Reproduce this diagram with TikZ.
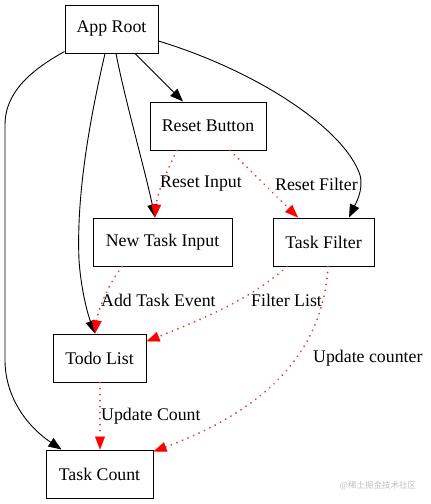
\documentclass[tikz,border=0pt]{standalone}
\usepackage{fontspec}
\setmainfont{Liberation Serif}
\newfontfamily\cjk{Noto Sans CJK SC}
\usetikzlibrary{arrows.meta}
\definecolor{edgered}{RGB}{235,50,50}
\begin{document}
\begin{tikzpicture}[x=1pt,y=-1pt,
  box/.style={draw=black,line width=1pt,minimum height=48pt,inner sep=0pt,font=\fontsize{17.8}{20}\selectfont},
  lbl/.style={anchor=west,inner sep=0pt,font=\fontsize{17.8}{20}\selectfont},
  blk/.style={draw=black,line width=0.9pt,-{Triangle[length=13pt,width=10pt]}},
  redarr/.style={draw=edgered,line width=2pt,line cap=round,dash pattern=on 0.01pt off 6pt,
    -{Triangle[length=13pt,width=10pt,color=red,line width=0.1pt]}}
]
\useasboundingbox (0,0) rectangle (431,504);
\node[box,minimum width=93pt] (root) at (111.5,29) {App Root};
\node[box,minimum width=116pt] (reset) at (208,126) {Reset Button};
\node[box,minimum width=139pt] (newtask) at (162.5,242) {New Task Input};
\node[box,minimum width=101pt] (filter) at (323.5,242) {Task Filter};
\node[box,minimum width=93pt] (todo) at (99.5,358) {Todo List};
\node[box,minimum width=107pt] (count) at (99.5,474) {Task Count};

% black edges
\draw[blk] ([yshift=2pt]root.south west) .. controls (35,68) and (5,90) .. (5,125)
   -- (5,360) .. controls (5,395) and (25,425) .. ([xshift=16pt]count.north west);
\draw[blk] ([xshift=-6.5pt]root.south) .. controls (92,110) and (76,190) .. (79,260)
   .. controls (81,290) and (88,315) .. ([xshift=-4.5pt]todo.north);
\draw[blk] ([xshift=4.5pt]root.south) .. controls (125,100) and (145,170) .. ([xshift=-7.5pt]newtask.north);
\draw[blk] ([xshift=23.5pt]root.south) -- ([xshift=-25pt]reset.north);
\draw[blk] ([yshift=-12pt]root.east) .. controls (260,72) and (345,130) .. (360,175)
   .. controls (364,190) and (355,205) .. ([xshift=25.5pt]filter.north);

% red edges
\draw[redarr] ([xshift=-31pt]reset.south) .. controls (166,172) and (157,195) .. ([xshift=-7.5pt]newtask.north);
\draw[redarr] ([xshift=22pt]reset.south) .. controls (255,175) and (280,200) .. ([xshift=-25.5pt]filter.north);
\draw[redarr] ([xshift=-40.5pt]newtask.south) .. controls (108,285) and (98,310) .. ([xshift=-4.5pt]todo.north);
\draw[redarr] ([xshift=-36.5pt]filter.south) .. controls (250,300) and (200,320) .. ([yshift=-8pt]todo.north east);
\draw[redarr] ([xshift=4.5pt]filter.south) .. controls (324,330) and (292,400) .. ([yshift=-2pt]count.north east);
\draw[redarr] ([xshift=0.5pt]todo.south) -- ([xshift=0.5pt]count.north);

% labels
\node[lbl] (l1) at (160,184) {Reset Input};
\node[lbl] (l2) at (275,184) {Reset Filter};
\node[lbl] (l3) at (101,300) {Add Task Event};
\node[lbl] (l4) at (251,300) {Filter List};
\node[lbl] (l5) at (313,358) {Update counter};
\node[lbl] (l6) at (101,416) {Update Count};

\node[inner sep=0pt,text=black!25,font=\cjk\fontsize{8.5}{10}\selectfont] (wm) at (378,486) {@稀土掘金技术社区};
\end{tikzpicture}
\end{document}
